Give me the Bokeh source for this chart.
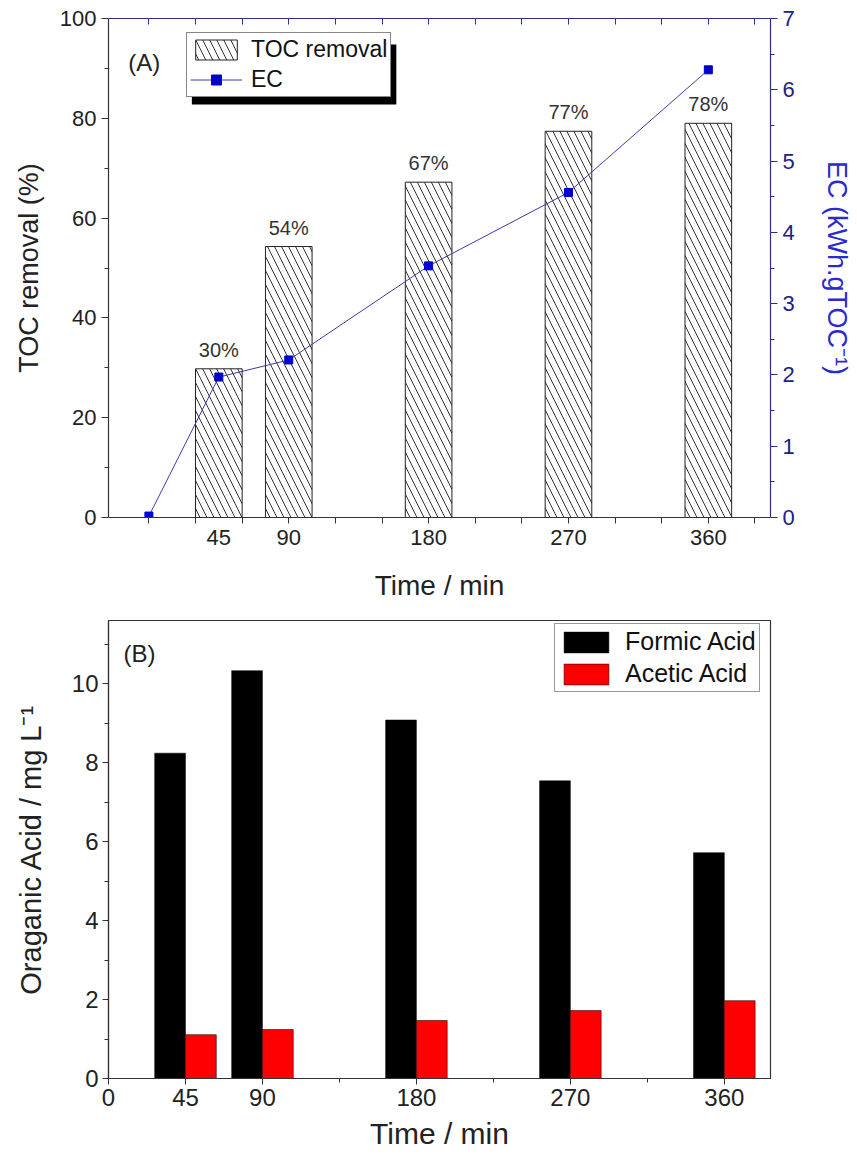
from bokeh.plotting import figure
from bokeh.models import (Range1d, LinearAxis, FixedTicker, Legend, LegendItem,
                          Label, ColumnDataSource)
from bokeh.layouts import column
from bokeh.transform import dodge
from bokeh.embed import file_html
from bokeh.resources import INLINE
from bokeh.core.properties import value

FONT = "Liberation Sans"

# ---------------- data ----------------
time_min = [45, 90, 180, 270, 360]
time_labels = ["45", "90", "180", "270", "360"]
toc_removal = [29.8, 54.3, 67.2, 77.4, 79.0]
toc_labels = ["30%", "54%", "67%", "77%", "78%"]
ec_time = [0, 45, 90, 180, 270, 360]
ec_values = [0.02, 1.97, 2.21, 3.53, 4.56, 6.28]

formic_acid = [8.24, 10.33, 9.08, 7.54, 5.72]
acetic_acid = [1.11, 1.24, 1.47, 1.72, 1.97]

NAVY = "#2e2e8a"
BLUE_LBL = "#2a2ad0"
DARK = "#333333"
TXT = "#222222"

def style_axis(ax, label_size, tick_size, line_color=DARK, lbl_color=TXT, tick_color=TXT):
    ax.axis_label_text_font = FONT
    ax.axis_label_text_font_style = "normal"
    ax.axis_label_text_font_size = label_size
    ax.axis_label_text_color = lbl_color
    ax.major_label_text_font = FONT
    ax.major_label_text_font_size = tick_size
    ax.major_label_text_color = tick_color
    ax.axis_line_width = 1.2
    ax.axis_line_color = line_color
    ax.major_tick_line_color = line_color
    ax.minor_tick_line_color = line_color
    ax.major_tick_in = 0
    ax.minor_tick_in = 0

# ================= Panel A =================
FL1, FT1 = 108, 18          # frame left / top in page pixels
FW1, FH1 = 667, 499
XL1, XR1 = -26, 400
p1 = figure(width=857, height=608, x_range=Range1d(XL1, XR1), y_range=Range1d(0, 100),
            output_backend="svg", toolbar_location=None,
            min_border_left=FL1, min_border_right=857 - FL1 - FW1,
            min_border_top=FT1, min_border_bottom=608 - FT1 - FH1)
p1.xgrid.visible = False
p1.ygrid.visible = False
p1.outline_line_color = None

# left axis
ya = p1.yaxis[0]
ya.ticker = FixedTicker(ticks=[0, 20, 40, 60, 80, 100], minor_ticks=[10, 30, 50, 70, 90])
ya.axis_label = "TOC removal (%)"
style_axis(ya, "27px", "22px")
ya.major_tick_out = 7
ya.minor_tick_out = 4
ya.major_label_standoff = 5
ya.axis_label_standoff = 13

# bottom axis
xa = p1.xaxis[0]
xa.ticker = FixedTicker(ticks=time_min, minor_ticks=list(range(0, 391, 30)))
xa.major_label_overrides = {t: s for t, s in zip(time_min, time_labels)}
xa.axis_label = "Time / min"
style_axis(xa, "28px", "22px")
xa.major_tick_line_color = None
xa.major_tick_out = 0
xa.minor_tick_out = 6
xa.major_label_standoff = 6
xa.axis_label_standoff = 22

# right axis
p1.extra_y_ranges = {"ec": Range1d(0, 7)}
ra = LinearAxis(y_range_name="ec", axis_label="EC (kWh.gTOC⁻¹)",
                ticker=FixedTicker(ticks=list(range(0, 8)),
                                   minor_ticks=[0.5, 1.5, 2.5, 3.5, 4.5, 5.5, 6.5]))
style_axis(ra, "27px", "22px", line_color=NAVY, lbl_color=BLUE_LBL, tick_color="#20208a")
ra.major_tick_out = 7
ra.minor_tick_out = 4
ra.major_label_standoff = 5
ra.axis_label_standoff = 24
p1.add_layout(ra, "right")

# top frame line with inward ticks (no labels)
ta = LinearAxis(ticker=FixedTicker(ticks=[], minor_ticks=list(range(0, 391, 30))))
ta.axis_line_color = NAVY
ta.axis_line_width = 1.2
ta.major_tick_line_color = NAVY
ta.minor_tick_line_color = NAVY
ta.minor_tick_in = 6
ta.minor_tick_out = 0
ta.major_tick_in = 0
ta.major_tick_out = 0
p1.add_layout(ta, "above")

src1 = ColumnDataSource(dict(t=time_min, toc=toc_removal, lbl=toc_labels))
bars = p1.vbar(x="t", top="toc", bottom=0, width=30, source=src1,
               fill_color="white", line_color="#222222", line_width=1,
               hatch_pattern="\\", hatch_color="#333333", hatch_scale=14, hatch_weight=1)

p1.text(x="t", y="toc", text="lbl", source=src1, text_align="center",
        text_baseline="bottom", y_offset=-8, text_font=value(FONT),
        text_font_size="20px", text_color="#333333")

src2 = ColumnDataSource(dict(t=ec_time, ec=ec_values))
ec_line = p1.line("t", "ec", source=src2, y_range_name="ec", line_color="#3b3ba8", line_width=1)
ec_pts = p1.scatter("t", "ec", source=src2, y_range_name="ec", marker="square", size=8,
                    fill_color="#0000cc", line_color="#0000cc")

# legend drop shadow: placed by page pixels, converted to data units
def px2x1(px):
    return XL1 + (px - FL1) * (XR1 - XL1) / FW1

def px2y1(py):
    return (FT1 + FH1 - py) * 100.0 / FH1

p1.quad(left=[px2x1(192)], right=[px2x1(398)], top=[px2y1(44)], bottom=[px2y1(104)],
        fill_color="black", line_color=None)

leg1 = Legend(items=[LegendItem(label="TOC removal", renderers=[bars]),
                     LegendItem(label="EC", renderers=[ec_line, ec_pts])],
              location=(78, 420), orientation="vertical",
              glyph_width=52, glyph_height=25, label_height=25, label_standoff=9,
              padding=3, spacing=3, margin=0,
              label_text_font=FONT, label_text_font_size="23px", label_text_color="#111111",
              border_line_color="#111111", border_line_width=1,
              background_fill_color="white", background_fill_alpha=1.0)
p1.add_layout(leg1)

p1.add_layout(Label(x=px2x1(128), y=px2y1(62), text="(A)", text_baseline="middle",
                    text_font=FONT, text_font_size="24px", text_color=TXT))

# ================= Panel B =================
FL2, FT2 = 106, 12
FW2, FH2 = 664, 458
XL2, XR2 = 0, 387
YT2 = 11.6
p2 = figure(width=857, height=550, x_range=Range1d(XL2, XR2), y_range=Range1d(0, YT2),
            output_backend="svg", toolbar_location=None,
            min_border_left=FL2, min_border_right=857 - FL2 - FW2,
            min_border_top=FT2, min_border_bottom=550 - FT2 - FH2)
p2.xgrid.visible = False
p2.ygrid.visible = False
p2.outline_line_color = DARK
p2.outline_line_width = 1.2

yb = p2.yaxis[0]
yb.ticker = FixedTicker(ticks=[0, 2, 4, 6, 8, 10], minor_ticks=[1, 3, 5, 7, 9, 11])
yb.axis_label = "Oraganic Acid / mg L⁻¹"
style_axis(yb, "29px", "24px")
yb.major_tick_out = 6
yb.minor_tick_out = 4
yb.major_label_standoff = 4
yb.axis_label_standoff = 22

xb = p2.xaxis[0]
xb.ticker = FixedTicker(ticks=[0] + time_min, minor_ticks=[135, 225, 315])
xb.major_label_overrides = {0: "0", **{t: s for t, s in zip(time_min, time_labels)}}
xb.axis_label = "Time / min"
style_axis(xb, "30px", "24px")
xb.major_tick_out = 6
xb.minor_tick_out = 4
xb.major_label_standoff = 4
xb.axis_label_standoff = 8

src3 = ColumnDataSource(dict(t=time_min, formic=formic_acid, acetic=acetic_acid))
fb = p2.vbar(x=dodge("t", -9, range=p2.x_range), top="formic", bottom=0, width=18,
             source=src3, fill_color="black", line_color="black", line_width=0.5)
ab = p2.vbar(x=dodge("t", 9, range=p2.x_range), top="acetic", bottom=0, width=18,
             source=src3, fill_color="#ff0000", line_color="#330000", line_width=0.6)

leg2 = Legend(items=[LegendItem(label="Formic Acid", renderers=[fb]),
                     LegendItem(label="Acetic Acid", renderers=[ab])],
              location=(446, 386), orientation="vertical",
              glyph_width=56, glyph_height=26, label_height=26, label_standoff=11,
              padding=3, spacing=3, margin=0,
              label_text_font=FONT, label_text_font_size="25px", label_text_color="#111111",
              border_line_color="#333333", border_line_width=1,
              background_fill_color="white", background_fill_alpha=1.0)
p2.add_layout(leg2)

def px2x2(px):
    return XL2 + (px - FL2) * (XR2 - XL2) / FW2

def px2y2(py):
    return (FT2 + FH2 - py) * YT2 / FH2

p2.add_layout(Label(x=px2x2(121), y=px2y2(45), text="(B)", text_baseline="middle",
                    text_font=FONT, text_font_size="24px", text_color=TXT))

layout = column(p1, p2, spacing=0)
open("out.html", "w").write(file_html(layout, INLINE))
